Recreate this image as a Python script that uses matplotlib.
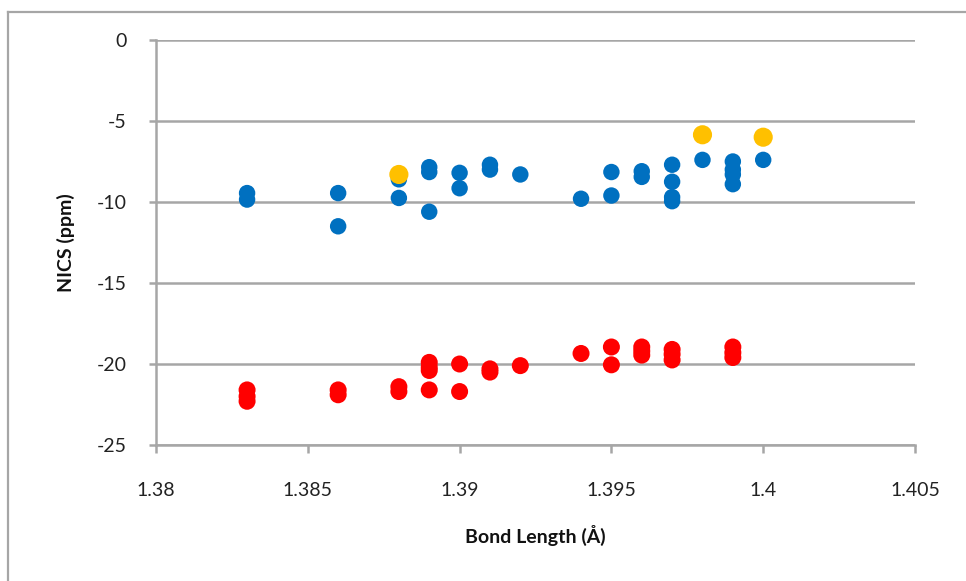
import matplotlib
matplotlib.use("Agg")
import matplotlib.pyplot as plt
from matplotlib.lines import Line2D

plt.rcParams['font.family'] = ['Lato', 'DejaVu Sans']
plt.rcParams['axes.unicode_minus'] = False

# NICS values versus bond length
blue_x = [1.383, 1.383, 1.386, 1.386, 1.388, 1.388, 1.389, 1.389, 1.389,
          1.390, 1.390, 1.391, 1.391, 1.392, 1.394, 1.395, 1.395,
          1.396, 1.396, 1.397, 1.397, 1.397, 1.397, 1.398,
          1.399, 1.399, 1.399, 1.399, 1.400]
blue_y = [-9.45, -9.85, -9.45, -11.5, -8.6, -9.75, -7.85, -8.15, -10.6,
          -8.2, -9.15, -7.7, -8.0, -8.3, -9.8, -8.15, -9.6,
          -8.1, -8.45, -7.7, -8.75, -9.7, -9.95, -7.4,
          -7.5, -8.0, -8.3, -8.9, -7.4]

yellow_x = [1.388, 1.398, 1.400]
yellow_y = [-8.3, -5.85, -6.0]

red_x = [1.383, 1.383, 1.383, 1.386, 1.386, 1.388, 1.388,
         1.389, 1.389, 1.389, 1.389, 1.390, 1.390, 1.391, 1.391, 1.392,
         1.394, 1.395, 1.395, 1.396, 1.396, 1.396,
         1.397, 1.397, 1.397, 1.399, 1.399, 1.399]
red_y = [-21.6, -22.0, -22.3, -21.6, -21.9, -21.4, -21.7,
         -19.9, -20.2, -20.4, -21.6, -20.0, -21.7, -20.3, -20.5, -20.1,
         -19.35, -18.95, -20.05, -18.95, -19.2, -19.45,
         -19.1, -19.4, -19.75, -18.95, -19.3, -19.6]

x_ticks = [1.38, 1.385, 1.39, 1.395, 1.4, 1.405]
x_tick_labels = ['1.38', '1.385', '1.39', '1.395', '1.4', '1.405']
y_ticks = [0, -5, -10, -15, -20, -25]

fig = plt.figure(figsize=(9.66, 5.81), dpi=100)
ax = fig.add_axes([156 / 966, 1 - 445 / 581, (915 - 156) / 966, (445 - 40) / 581])

grid_c = '#a6a6a6'
ax.scatter(blue_x, blue_y, s=140, color='#0070c0', edgecolors='none', zorder=3)
ax.scatter(yellow_x, yellow_y, s=190, color='#ffc000', edgecolors='none', zorder=4)
ax.scatter(red_x, red_y, s=150, color='#ff0000', edgecolors='none', zorder=3)

ax.set_xlim(1.38, 1.405)
ax.set_ylim(-25, 0)
ax.set_xticks(x_ticks)
ax.set_xticklabels(x_tick_labels)
ax.set_yticks(y_ticks)
ax.yaxis.grid(True, color=grid_c, linewidth=1.8)
ax.set_axisbelow(True)

for side in ['top', 'right']:
    ax.spines[side].set_visible(False)
for side in ['left', 'bottom']:
    ax.spines[side].set_color(grid_c)
    ax.spines[side].set_linewidth(1.8)

ax.tick_params(axis='x', direction='out', length=6, width=1.8, color=grid_c,
               labelsize=14, labelcolor='#222222', pad=21)
ax.tick_params(axis='y', direction='out', length=5, width=1.8, color=grid_c,
               labelsize=14, labelcolor='#222222', pad=16)

ax.set_xlabel('Bond Length (Å)', fontsize=14, fontweight='bold', labelpad=18, color='#111111')
ax.set_ylabel('NICS (ppm)', fontsize=14, fontweight='bold', labelpad=16, color='#111111')

# outer chart frame
fig.add_artist(Line2D([8 / 966, 8 / 966], [0, 1 - 12 / 581], transform=fig.transFigure,
                      color='#a6a6a6', linewidth=1.6))
fig.add_artist(Line2D([8 / 966, 1], [1 - 12 / 581, 1 - 12 / 581], transform=fig.transFigure,
                      color='#a6a6a6', linewidth=1.6))

fig.savefig('out.png', dpi=100)
